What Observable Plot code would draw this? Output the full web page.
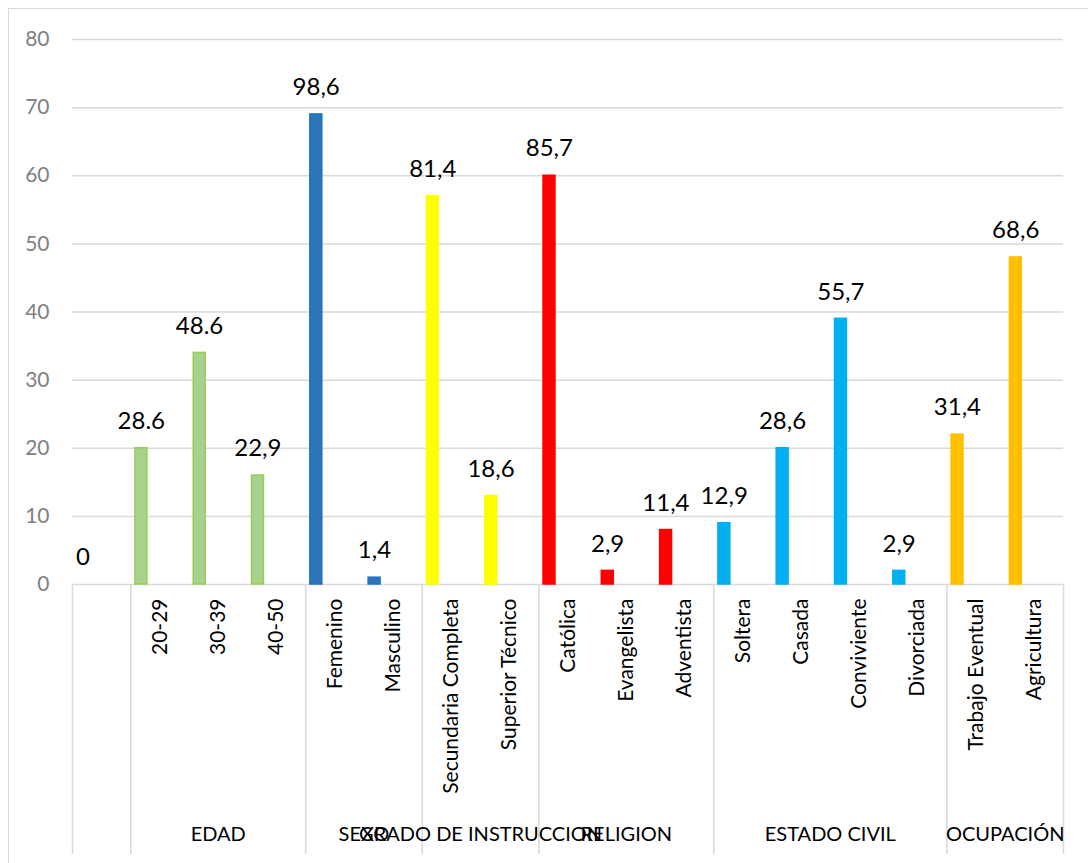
<!DOCTYPE html>
<html>
<head>
<meta charset="utf-8">
<script src="https://cdn.jsdelivr.net/npm/d3@7"></script>
<script src="https://cdn.jsdelivr.net/npm/@observablehq/plot@0.6"></script>
<style>
  html, body { margin: 0; padding: 0; background: #fff; overflow: hidden; }
  #wrap { position: relative; width: 1088px; height: 863px; overflow: hidden; }
  #edge { position: absolute; left: 8px; top: 8px; width: 1200px; height: 1000px;
          border-top: 1.5px solid #d9d9d9; border-left: 1.5px solid #d9d9d9; }
  #chart { position: absolute; left: 0; top: 0; }
</style>
</head>
<body>
<div id="wrap"><div id="edge"></div><div id="chart"></div></div>
<script>
// Categories (the first slot is an empty placeholder)
const categories = ["", "20-29", "30-39", "40-50", "Femenino", "Masculino",
  "Secundaria Completa", "Superior Técnico", "Católica", "Evangelista", "Adventista",
  "Soltera", "Casada", "Conviviente", "Divorciada", "Trabajo Eventual", "Agricultura"];

// Group each category belongs to
const categoryGroups = ["", "EDAD", "EDAD", "EDAD", "SEXO", "SEXO",
  "GRADO DE INSTRUCCION", "GRADO DE INSTRUCCION", "RELIGION", "RELIGION", "RELIGION",
  "ESTADO CIVIL", "ESTADO CIVIL", "ESTADO CIVIL", "ESTADO CIVIL", "OCUPACIÓN", "OCUPACIÓN"];

// Counts (bar heights)
const counts = [0, 20, 34, 16, 69, 1, 57, 13, 60, 2, 8, 9, 20, 39, 2, 22, 48];

// Percentage labels shown above the bars
const valueLabels = ["0", "28.6", "48.6", "22,9", "98,6", "1,4", "81,4", "18,6",
  "85,7", "2,9", "11,4", "12,9", "28,6", "55,7", "2,9", "31,4", "68,6"];

// Y axis tick values
const yTicks = [0, 10, 20, 30, 40, 50, 60, 70, 80];

// Group order and colours
const groupNames = ["", "EDAD", "SEXO", "GRADO DE INSTRUCCION", "RELIGION", "ESTADO CIVIL", "OCUPACIÓN"];
const groupFill = ["none", "#A9D18E", "#2E75B6", "#FFFF00", "#FF0000", "#00B0F0", "#FFC000"];
const groupStroke = ["none", "#92D050", "#1A73C8", "#FFFF00", "#FF0000", "#00B0F0", "#FFC000"];

const rows = categories.map((c, i) => ({
  i, category: c, group: categoryGroups[i], count: counts[i], label: valueLabels[i]
}));

// Group spans along the index axis
const groups = groupNames.map(name => {
  const members = rows.filter(d => d.group === name).map(d => d.i);
  return {name, start: d3.min(members), end: d3.max(members) + 1};
});
const boundaries = Array.from(new Set(groups.flatMap(g => [g.start, g.end]))).sort((a, b) => a - b);

const fillOf = g => groupFill[groupNames.indexOf(g)];
const strokeOf = g => groupStroke[groupNames.indexOf(g)];

const GRID = "#d9d9d9";

const chart = Plot.plot({
  width: 1088,
  height: 863,
  marginLeft: 72,
  marginRight: 25,
  marginTop: 39,
  marginBottom: 279,
  style: {fontFamily: "Lato, 'Open Sans', sans-serif", fontSize: "20px", background: "transparent", color: "#000"},
  x: {type: "linear", domain: [0, categories.length], axis: null},
  y: {domain: [0, 80], axis: null},
  marks: [
    // horizontal gridlines and baseline
    Plot.ruleY(yTicks, {stroke: GRID, strokeWidth: 1.5}),
    // y tick labels
    Plot.text(yTicks, {y: d => d, text: d => String(d), frameAnchor: "left", dx: -23,
      textAnchor: "end", fill: "#808080", fontSize: 21}),
    // group separators running down through the category table
    Plot.ruleX(boundaries, {x: d => d, y1: 0, y2: 0, insetBottom: -270, stroke: GRID, strokeWidth: 1.5}),
    // bars
    Plot.rect(rows.filter(d => d.count > 0), {
      x1: d => d.i + 0.08, x2: d => d.i + 0.285, y1: 0, y2: "count",
      fill: d => fillOf(d.group), stroke: d => strokeOf(d.group), strokeWidth: 1.5
    }),
    // percentage labels
    Plot.text(rows, {x: d => d.i + 0.18, y: "count", text: "label", dy: -27,
      fontSize: 24, fill: "#000"}),
    // rotated category labels
    Plot.text(rows.filter(d => d.category), {x: d => d.i + 0.5, frameAnchor: "bottom",
      text: "category", rotate: -90, textAnchor: "end", lineAnchor: "middle",
      dy: 14, fontSize: 21, fill: "#000"}),
    // group labels
    Plot.text(groups.filter(g => g.name), {x: g => (g.start + g.end) / 2, frameAnchor: "bottom",
      text: "name", dy: 256, fontSize: 20, fill: "#000"})
  ]
});

document.getElementById("chart").appendChild(chart);
</script>
</body>
</html>
